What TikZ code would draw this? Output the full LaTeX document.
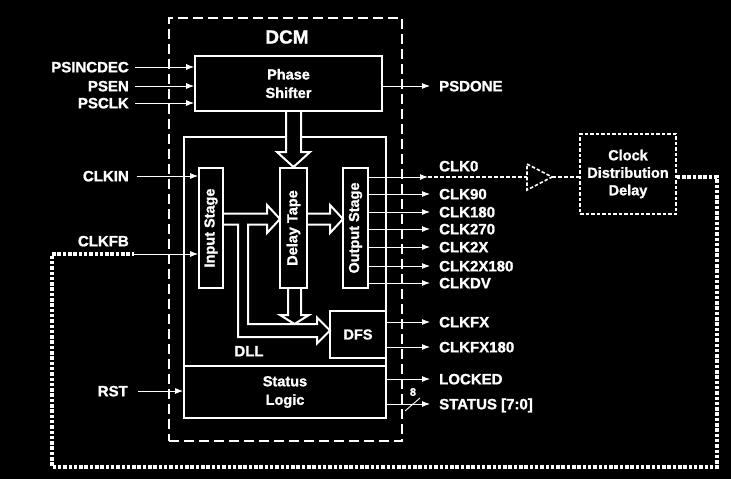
\documentclass[tikz,border=0pt]{standalone}
\usepackage{fontspec}
\usepackage{graphicx}
\setmainfont{Liberation Sans}[BoldFeatures={FakeBold=1.2}]
\usetikzlibrary{arrows.meta}
\begin{document}
\begin{tikzpicture}[x=1pt,y=-1pt,
  box/.style={draw=white, line width=1.7pt, inner sep=0pt, text=white, align=center, font=\fontsize{14.5}{18.5}\selectfont\bfseries},
  lab/.style={text=white, inner sep=0pt, font=\fontsize{15}{18}\selectfont\bfseries, text height=10.7pt, text depth=0pt},
  sig/.style={draw=white, line width=0.9pt, -{Latex[length=8pt,width=6pt]}},
  plain/.style={draw=white, line width=0.9pt},
  fat/.style={draw=white, fill=black, line width=2pt, line join=miter},
  fb/.style={draw=white, line width=3.4pt, dash pattern=on 3.5pt off 1.8pt, line join=miter},
  clkdash/.style={draw=white, line width=2.4pt, dash pattern=on 4pt off 2pt},
  thindash/.style={draw=white, line width=1.6pt, dash pattern=on 3.5pt off 2pt},
]
\fill[black] (0,0) rectangle (731,479);
\useasboundingbox (0,0) rectangle (731,479);

% DCM outline
\node[box, dash pattern=on 10pt off 5pt, minimum width=233pt, minimum height=423pt] (dcm) at (285.5,229.5) {};
\node[text=white, inner sep=0pt, font=\fontsize{19}{22}\selectfont\bfseries] (dcmlab) at (287,37) {DCM};

% blocks
\node[box, minimum width=187pt, minimum height=55pt] (ps) at (288.5,83.5) {Phase\\Shifter};
\node[box, minimum width=202pt, minimum height=229pt] (dll) at (285,251.5) {};
\node[box, minimum width=202pt, minimum height=52pt] (st) at (285,392) {Status\\Logic};
\node[box, minimum width=24pt, minimum height=120pt] (ins) at (211,228) {\rotatebox{90}{Input Stage}};
\node[box, minimum width=27pt, minimum height=120pt] (dt) at (293.5,228) {\rotatebox{90}{Delay Tape}};
\node[box, minimum width=25pt, minimum height=120pt] (os) at (355.5,228) {\rotatebox{90}{Output Stage}};
\node[box, minimum width=56pt, minimum height=47pt] (dfs) at (358,334.5) {DFS};
\node[lab] (dlllab) at (249,351) {DLL};
\node[box, thindash, font=\fontsize{14.5}{17.5}\selectfont\bfseries, minimum width=96pt, minimum height=80pt] (cdd) at (628,174) {Clock\\Distribution\\Delay};

% fat arrows
\draw[fat] (286,112) -- (286,152) -- (277,152) -- (293.5,167) -- (310,152) -- (301,152) -- (301,112);
\draw[fat] (288,289) -- (288,315) -- (280,315) -- (294.5,324) -- (309,315) -- (301,315) -- (301,289);
\draw[fat] (308,213.5) -- (330,213.5) -- (330,205) -- (343,219) -- (330,233) -- (330,224.5) -- (308,224.5);
\draw[fat] (224,213.5) -- (267,213.5) -- (267,205) -- (280,219) -- (267,233) -- (267,224.5)
  -- (248,224.5) -- (248,324) -- (317,324) -- (317,317.5) -- (330,330.5) -- (317,343.5)
  -- (317,337) -- (238,337) -- (238,224.5) -- (224,224.5);

% left labels
\node[lab, anchor=east] (psincdec) at (129,67) {PSINCDEC};
\node[lab, anchor=east] (psen) at (129,86) {PSEN};
\node[lab, anchor=east] (psclk) at (129,103) {PSCLK};
\node[lab, anchor=east] (clkin) at (129,176) {CLKIN};
\node[lab, anchor=east] (clkfb) at (129,241) {CLKFB};
\node[lab, anchor=east] (rst) at (128,391) {RST};

% right labels
\node[lab, anchor=west] (psdone) at (439,86) {PSDONE};
\node[lab, anchor=west] (clk0) at (439,166) {CLK0};
\node[lab, anchor=west] (clk90) at (439,194) {CLK90};
\node[lab, anchor=west] (clk180) at (439,212) {CLK180};
\node[lab, anchor=west] (clk270) at (439,229) {CLK270};
\node[lab, anchor=west] (clk2x) at (439,247) {CLK2X};
\node[lab, anchor=west] (clk2x180) at (439,266) {CLK2X180};
\node[lab, anchor=west] (clkdv) at (439,283) {CLKDV};
\node[lab, anchor=west] (clkfx) at (439,322) {CLKFX};
\node[lab, anchor=west] (clkfx180) at (439,347) {CLKFX180};
\node[lab, anchor=west] (locked) at (439,379) {LOCKED};
\node[lab, anchor=west] (status) at (439,404) {STATUS [7:0]};

% inputs
\draw[sig] ([xshift=6pt]psincdec.east) -- (ps.west |- psincdec.east);
\draw[sig] ([xshift=6pt]psen.east) -- (ps.west |- psen.east);
\draw[sig] ([xshift=6pt]psclk.east) -- (ps.west |- psclk.east);
\draw[sig] ([xshift=8pt]clkin.east) -- (ins.west |- clkin.east);
\coordinate (fbjoin) at (134,254);
\draw[sig] (fbjoin) -- (ins.west |- fbjoin);
\draw[sig] ([xshift=10pt]rst.east) -- (st.west |- rst.east);

% outputs
\draw[sig] (ps.east |- psdone.west) -- ([xshift=-9pt]psdone.west);
\foreach \n in {clk90,clk180,clk270,clk2x,clk2x180,clkdv}
  \draw[sig] (os.east |- \n.west) -- ([xshift=-9pt]\n.west);
\draw[sig] (dfs.east |- clkfx.west) -- ([xshift=-9pt]clkfx.west);
\draw[sig] (dfs.east |- clkfx180.west) -- ([xshift=-9pt]clkfx180.west);
\draw[sig] (st.east |- locked.west) -- ([xshift=-9pt]locked.west);
\draw[sig] (st.east |- status.west) -- ([xshift=-9pt]status.west);
\draw[plain] (405,411) -- (420,398);
\node[text=white, inner sep=0pt, font=\fontsize{11}{12}\selectfont\bfseries] (eight) at (413,392) {8};

% CLK0 path and feedback loop
\coordinate (c0tip) at (428,177);
\coordinate (bufin) at (527,177);
\coordinate (bufout) at (552,177);
\draw[sig] (os.east |- c0tip) -- (c0tip);
\draw[thindash] (527,164) -- (bufout) -- (527,190) -- cycle;
\draw[clkdash] (c0tip) -- (bufin);
\draw[clkdash] (bufout) -- (cdd.west |- bufout);
\coordinate (lpa) at (717,177);
\coordinate (lpb) at (717,467);
\coordinate (lpc) at (52,467);
\coordinate (lpd) at (52,254);
\draw[fb] (cdd.east |- bufout) -- (lpa) -- (lpb) -- (lpc) -- (lpd) -- (fbjoin);
\end{tikzpicture}
\end{document}
